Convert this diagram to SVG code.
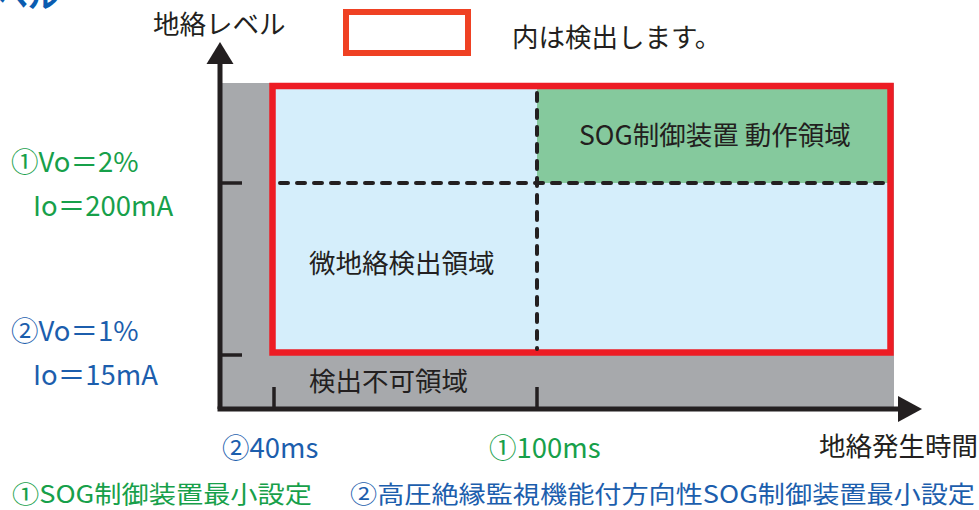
<svg xmlns="http://www.w3.org/2000/svg" width="979" height="510" viewBox="0 0 979 510">
<defs>
<style>
.t{font-family:"Noto Sans CJK JP","Noto Sans",sans-serif;font-size:26.5px;fill:#231f20}
.l{font-size:27.5px}
.g{fill:#17a04a}
.b{fill:#1c5ead}
.axis{stroke:#231f20;stroke-width:5;fill:none}
.tick{stroke:#231f20;stroke-width:3.5;fill:none}
.dash{stroke:#231f20;stroke-width:4;fill:none;stroke-dasharray:8 9;stroke-linecap:round}
</style>
</defs>
<rect width="979" height="510" fill="#ffffff"/>
<text class="t" x="-2" y="7" style="font-size:30px;font-weight:bold;fill:#0a5cb0">ベル</text>

<g id="region-undetectable">
<rect x="222" y="83" width="672" height="325" fill="#a7a9ac"/>
</g>
<g id="region-detect">
<rect x="272.5" y="86" width="618" height="266.5" fill="#d5eefb"/>
</g>
<g id="region-sog">
<rect x="537" y="89" width="351" height="94" fill="#85c99d"/>
</g>
<g id="detect-frame">
<rect x="272.5" y="86" width="618" height="266.5" fill="none" stroke="#ed1c24" stroke-width="6.5"/>
</g>

<g id="connectors">
<line class="dash" x1="280" y1="183" x2="888" y2="183"/>
<line class="dash" x1="537" y1="93" x2="537" y2="349"/>
<line class="axis" x1="220" y1="60" x2="220" y2="409"/>
<line class="axis" x1="217.5" y1="409" x2="900" y2="409"/>
<polygon points="220,42 206.5,64 233.5,64" fill="#231f20"/>
<polygon points="922,409 898,396 898,422" fill="#231f20"/>
<line class="tick" x1="220" y1="183" x2="242" y2="183"/>
<line class="tick" x1="220" y1="355" x2="242" y2="355"/>
<line class="tick" x1="274" y1="387" x2="274" y2="409"/>
<line class="tick" x1="537" y1="387" x2="537" y2="409"/>
</g>

<g id="legend">
<rect x="346" y="12" width="122" height="41" fill="#ffffff" stroke="#ef4123" stroke-width="6"/>
<text class="t" x="512" y="47">内は検出します。</text>
</g>

<g id="labels">
<text class="t" x="153" y="34">地絡レベル</text>
<text class="t" x="819" y="456">地絡発生時間</text>
<text class="t" x="579" y="145">SOG制御装置 動作領域</text>
<text class="t" x="309" y="273">微地絡検出領域</text>
<text class="t" x="309" y="391">検出不可領域</text>
<text class="t l g" x="11" y="172">①Vo＝2%</text>
<text class="t l g" x="33" y="216">Io＝200mA</text>
<text class="t l b" x="11" y="341">②Vo＝1%</text>
<text class="t l b" x="33" y="385">Io＝15mA</text>
<text class="t l b" x="222" y="458">②40ms</text>
<text class="t l g" x="489" y="458">①100ms</text>
<text class="t g" x="12" y="503" style="font-size:24px" textLength="300" lengthAdjust="spacingAndGlyphs">①SOG制御装置最小設定</text>
<text class="t b" x="350" y="503" style="font-size:24px" textLength="625" lengthAdjust="spacingAndGlyphs">②高圧絶縁監視機能付方向性SOG制御装置最小設定</text>
</g>
</svg>
